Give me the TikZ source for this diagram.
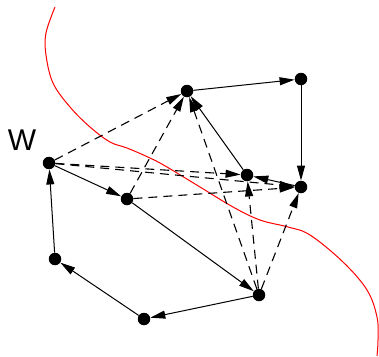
\documentclass[tikz,border=0pt]{standalone}
\usepackage{fontspec}
\setmainfont{Liberation Sans}
\usetikzlibrary{arrows.meta}
\begin{document}
\begin{tikzpicture}[x=1pt,y=-1pt,
  vertex/.style={circle,fill=black,inner sep=0pt,minimum size=12.5pt},
  solidarc/.style={line width=1pt,-{Triangle[length=15pt,width=8pt]}},
  dasharc/.style={line width=1.1pt,dash pattern=on 9pt off 6pt,-{Triangle[length=15pt,width=8pt]}},
  cutline/.style={red,line width=1pt}]
\useasboundingbox (0,0) rectangle (379,356);

% the cut
\draw[cutline] plot[smooth,tension=0.6] coordinates {
  (55,7) (46,33) (46,55) (53,83) (70,107) (90,127) (110,142) (127,148)
  (150,158) (167,167) (200,187) (233,207) (260,220) (288,227) (310,235)
  (343,262) (367,290) (377,317) (378,340) (377,356)};

% vertices
\node[vertex] (w) at (49,163) {};
\node[vertex] (a) at (187,91) {};
\node[vertex] (b) at (301,79) {};
\node[vertex] (c) at (247,175) {};
\node[vertex] (d) at (301,187) {};
\node[vertex] (e) at (127,199) {};
\node[vertex] (f) at (55,259) {};
\node[vertex] (g) at (144,319) {};
\node[vertex] (h) at (259,295) {};

\node[font=\fontsize{30}{30}\selectfont,inner sep=0pt] (wl) at (22,140) {W};

% solid arcs
\draw[solidarc] (a) -- (b);
\draw[solidarc] (b) -- (d);
\draw[solidarc] (c) -- (a);
\draw[solidarc] (d) -- (c);
\draw[solidarc] (w) -- (e);
\draw[solidarc] (e) -- (h);
\draw[solidarc] (h) -- (g);
\draw[solidarc] (g) -- (f);
\draw[solidarc] (f) -- (w);

% dashed arcs
\draw[dasharc] (w) -- (a);
\draw[dasharc] (w) -- (c);
\draw[dasharc] (w) -- (d);
\draw[dasharc] (e) -- (a);
\draw[dasharc] (e) -- (d);
\draw[dasharc] (h) -- (a);
\draw[dasharc] (h) -- (c);
\draw[dasharc] (h) -- (d);
\end{tikzpicture}
\end{document}
